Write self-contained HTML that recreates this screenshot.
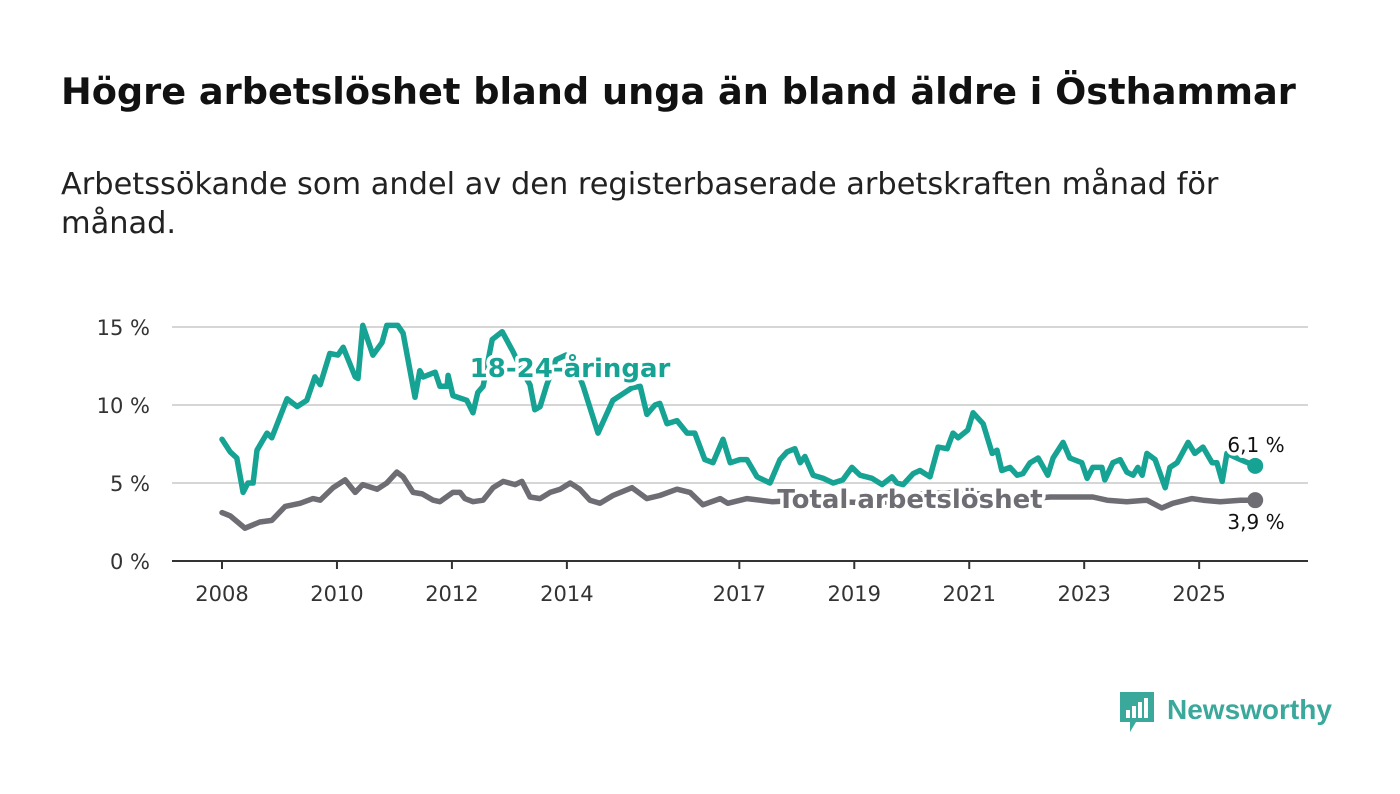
<!DOCTYPE html>
<html><head><meta charset="utf-8">
<style>
body{margin:0;background:#fff;width:1400px;height:794px;overflow:hidden;font-family:"DejaVu Sans","Liberation Sans",sans-serif;}
h1{position:absolute;left:61px;top:70px;margin:0;font-size:36.7px;font-weight:bold;color:#111;white-space:nowrap}
p.sub{position:absolute;left:61px;top:165px;margin:0;font-size:30.4px;line-height:39px;color:#222;width:1300px;white-space:nowrap}
svg{position:absolute;left:0;top:0}
</style></head>
<body>
<h1>Högre arbetslöshet bland unga än bland äldre i Östhammar</h1>
<p class="sub">Arbetssökande som andel av den registerbaserade arbetskraften månad för<br>månad.</p>
<svg id="chart" width="1400" height="794"></svg>
<script>
// months since Jan 2008
const youthMonths=[0,1.7,3.1,4.4,5.4,6.5,7.3,9.4,10.4,13.6,15.7,17.7,19.4,20.5,22.5,24.2,25.3,27.8,28.4,29.4,31.5,33.4,34.4,36.7,37.8,40.3,41.3,42.0,44.5,45.5,47.0,47.2,48.2,51.1,52.4,53.4,54.5,56.4,58.5,60.8,62.6,64.3,65.3,66.4,67.8,69.7,71.8,73.7,75.4,78.5,81.6,84.1,85.6,87.3,88.7,90.4,91.4,92.9,95.0,97.1,98.7,100.8,102.5,104.6,106.1,108.1,109.6,111.7,114.4,116.5,118.0,119.6,120.7,121.7,123.4,125.5,127.6,129.6,131.5,133.2,135.7,137.8,139.9,140.9,142.2,144.3,145.7,147.8,149.5,151.4,152.6,153.7,155.7,156.8,158.9,160.8,161.8,162.8,164.5,166.0,167.2,168.7,170.4,172.4,173.5,175.6,177.0,179.5,180.6,181.8,183.7,184.3,186.0,187.5,188.9,190.2,191.2,192.1,193.1,194.8,196.9,197.9,199.4,201.7,203.1,204.8,206.7,207.7,208.8,209.8,212.6,215.7];
const youthValues=[7.8,7.0,6.6,4.4,5.0,5.0,7.1,8.2,7.9,10.4,9.9,10.3,11.8,11.3,13.3,13.2,13.7,11.8,11.7,15.1,13.2,14.0,15.1,15.1,14.6,10.5,12.2,11.8,12.1,11.2,11.2,11.9,10.6,10.3,9.5,10.8,11.2,14.2,14.7,13.4,12.2,11.3,9.7,9.9,11.3,12.9,13.2,12.6,11.2,8.2,10.3,10.8,11.1,11.2,9.4,10.0,10.1,8.8,9.0,8.2,8.2,6.5,6.3,7.8,6.3,6.5,6.5,5.4,5.0,6.5,7.0,7.2,6.3,6.7,5.5,5.3,5.0,5.2,6.0,5.5,5.3,4.9,5.4,5.0,4.9,5.6,5.8,5.4,7.3,7.2,8.2,7.9,8.4,9.5,8.8,6.9,7.1,5.8,6.0,5.5,5.6,6.3,6.6,5.5,6.6,7.6,6.6,6.3,5.3,6.0,6.0,5.2,6.3,6.5,5.7,5.5,6.0,5.5,6.9,6.5,4.7,6.0,6.3,7.6,6.9,7.3,6.3,6.3,5.1,6.9,6.5,6.1];
const totalMonths=[0,1.7,4.8,7.9,10.4,13.2,16.3,19.0,20.5,23.2,25.7,27.8,29.4,32.4,34.4,36.5,37.8,39.9,41.8,44.1,45.5,48.2,49.7,50.7,52.4,54.5,56.6,58.7,61.2,62.6,64.3,66.4,68.5,70.6,72.7,74.7,76.8,78.9,81.6,85.6,88.7,91.4,95.0,97.7,100.4,104.0,105.6,109.6,112.3,114.8,120.7,129,137.4,145.7,154,162.4,168.7,172.9,181.8,184.8,188.9,193.1,196.2,198.5,202.5,204.8,208.4,212.6,215.7];
const totalValues=[3.1,2.9,2.1,2.5,2.6,3.5,3.7,4.0,3.9,4.7,5.2,4.4,4.9,4.6,5.0,5.7,5.4,4.4,4.3,3.9,3.8,4.4,4.4,4.0,3.8,3.9,4.7,5.1,4.9,5.1,4.1,4.0,4.4,4.6,5.0,4.6,3.9,3.7,4.2,4.7,4.0,4.2,4.6,4.4,3.6,4.0,3.7,4.0,3.9,3.8,3.9,3.8,3.7,4.3,4.4,4.2,4.0,4.1,4.1,3.9,3.8,3.9,3.4,3.7,4.0,3.9,3.8,3.9,3.9];
const yTicks=[0,5,10,15];
const yTickLabels=["0 %","5 %","10 %","15 %"];
const xTickYears=[2008,2010,2012,2014,2017,2019,2021,2023,2025];

const NS="http://www.w3.org/2000/svg";
const svg=document.getElementById('chart');
const X0=222,PXM=4.79,Y0=561,PXV=15.6;
const xM=m=>X0+m*PXM;
const xY=y=>xM((y-2008)*12);
const yV=v=>Y0-v*PXV;
function mk(tag,attrs,parent){const e=document.createElementNS(NS,tag);for(const k in attrs)e.setAttribute(k,attrs[k]);(parent||svg).appendChild(e);return e;}

yTicks.forEach((t,i)=>{
  if(t>0){const g=mk('line',{x1:172,x2:1308,y1:yV(t),y2:yV(t),stroke:'#d6d6d6','stroke-width':2});
  
  }
  const l=mk('text',{x:150,y:yV(t)+8,'text-anchor':'end','font-size':21,fill:'#333'});
  l.textContent=yTickLabels[i];
  
  
});
const ax=mk('line',{x1:172,x2:1308,y1:Y0,y2:Y0,stroke:'#333','stroke-width':2});


xTickYears.forEach(yr=>{
  const x=xY(yr);
  const tk=mk('line',{x1:x,x2:x,y1:Y0,y2:Y0+8,stroke:'#333','stroke-width':2});
  
  
  const t=mk('text',{x:x,y:601,'text-anchor':'middle','font-size':21,fill:'#333'});
  t.textContent=yr;
  
  
});
function line(ms,vs,color,name){
  const d=ms.map((m,i)=>(i?'L':'M')+xM(m).toFixed(1)+','+yV(vs[i]).toFixed(1)).join('');
  const p=mk('path',{d:d,fill:'none',stroke:color,'stroke-width':5.5,'stroke-linejoin':'round','stroke-linecap':'round'});
  
  
  const n=ms.length-1;
  const c=mk('circle',{cx:xM(ms[n]),cy:yV(vs[n]),r:8,fill:color});
  
  
}
line(totalMonths,totalValues,'#6e6d73','total-line');
line(youthMonths,youthValues,'#16a394','youth-line');
function lab(x,y,txt,color,size,weight,anchor,name){
  const t=mk('text',{x:x,y:y,'font-size':size,'font-weight':weight,fill:color,'text-anchor':anchor,stroke:'#fff','stroke-width':7,'paint-order':'stroke','stroke-linejoin':'round'});
  t.textContent=txt;
  
  
}
lab(570,377,'18-24-åringar','#16a394',26,'bold','middle','youth-series-label');
lab(910,508,'Total arbetslöshet','#6e6d73',26,'bold','middle','total-series-label');
const nY=youthValues.length-1,nT=totalValues.length-1;
lab(1256,yV(youthValues[nY])-14,youthValues[nY].toFixed(1).replace('.',',')+' %','#111',20,'normal','middle','youth-end-value');
lab(1256,yV(totalValues[nT])+29,totalValues[nT].toFixed(1).replace('.',',')+' %','#111',20,'normal','middle','total-end-value');

// logo
const lg=mk('g',{});


mk('path',{d:'M1120,692 h34 v30 h-18 l-6,10 v-10 h-10 z',fill:'#3aa89b'},lg);
mk('rect',{x:1126,y:710,width:4,height:8,fill:'#fff'},lg);
mk('rect',{x:1132,y:706,width:4,height:12,fill:'#fff'},lg);
mk('rect',{x:1138,y:702,width:4,height:16,fill:'#fff'},lg);
mk('rect',{x:1144,y:698,width:4,height:20,fill:'#fff'},lg);
const lt=mk('text',{x:1167,y:719,'font-size':28,'font-weight':'bold',fill:'#3aa89b','font-family':'Liberation Sans, sans-serif'},lg);
lt.textContent='Newsworthy';
</script>
</body></html>
